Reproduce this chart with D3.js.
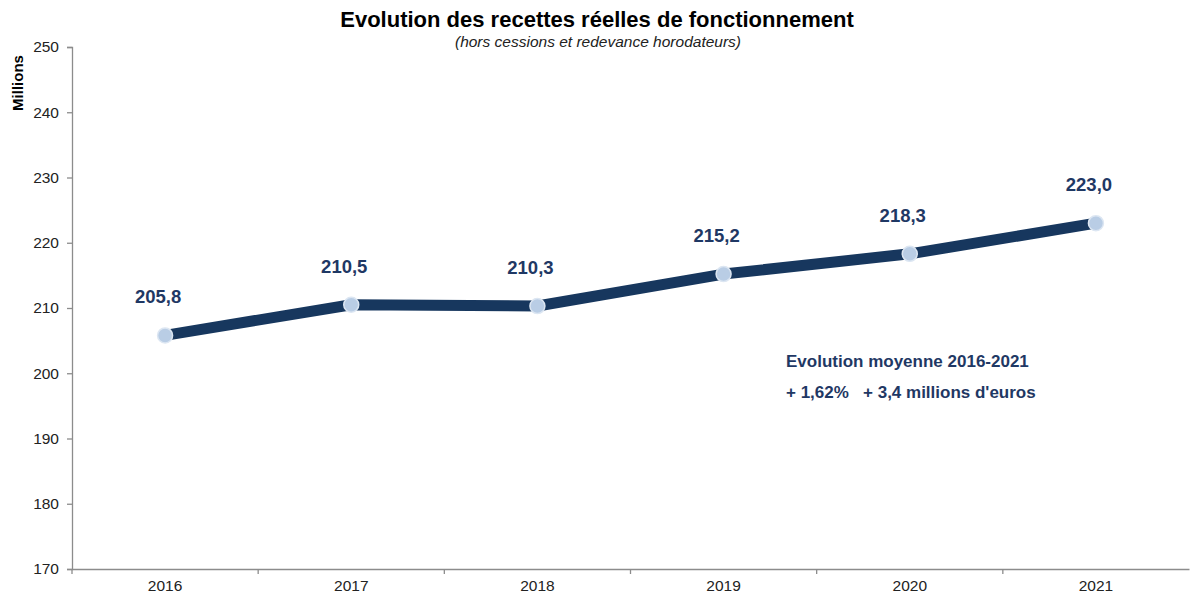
<!DOCTYPE html>
<html>
<head>
<meta charset="utf-8">
<script src="https://cdn.jsdelivr.net/npm/d3@7"></script>
<style>
    body { margin: 0; background: #fff; }
    svg { font-family: Arial, "Liberation Sans", sans-serif; }
</style>
</head>
<body>
<svg id="chart" width="1190" height="593"></svg>
<script>
    // data
    const years = ['2016', '2017', '2018', '2019', '2020', '2021'];
    const recettes = [205.8, 210.5, 210.3, 215.2, 218.3, 223.0];
    const yTicks = [170, 180, 190, 200, 210, 220, 230, 240, 250];

    const svg = d3.select('#chart');
    const navy = '#17375e';
    const x0 = 72, x1 = 1189, yTop = 47, yBottom = 569;

    const x = d3.scaleBand().domain(years).range([x0, x1]);
    const y = d3.scaleLinear().domain([170, 250]).range([yBottom, yTop]);

    // y axis
    const yAxis = svg.append('g')
        .attr('transform', 'translate(' + x0 + ',0)')
        .call(d3.axisLeft(y).tickValues(yTicks).tickSize(5).tickPadding(8));
    yAxis.select('.domain').attr('stroke', '#8c8c8c').attr('stroke-width', 1.3);
    yAxis.selectAll('.tick line').attr('stroke', '#8c8c8c').attr('stroke-width', 1.3);
    yAxis.selectAll('.tick text')
        .attr('font-size', 15.5).attr('fill', '#222')
        .attr('font-family', 'Arial, "Liberation Sans", sans-serif');

    // x axis, ticks sit between categories
    const xAxis = svg.append('g')
        .attr('transform', 'translate(0,' + yBottom + ')')
        .call(d3.axisBottom(x).tickSize(0).tickPadding(11));
    xAxis.select('.domain').attr('stroke', '#8c8c8c').attr('stroke-width', 1.3);
    xAxis.selectAll('.tick text')
        .attr('font-size', 15.5).attr('fill', '#222')
        .attr('font-family', 'Arial, "Liberation Sans", sans-serif');
    xAxis.selectAll('.sep')
        .data(years)
        .enter()
        .append('line')
        .attr('x1', d => x(d)).attr('x2', d => x(d))
        .attr('y1', 0).attr('y2', 5)
        .attr('stroke', '#8c8c8c').attr('stroke-width', 1.3);

    const cx = d => x(d) + x.bandwidth() / 2;

    // line
    const line = d3.line()
        .x((d, i) => cx(years[i]))
        .y(d => y(d));
    svg.append('path')
        .datum(recettes)
        .attr('d', line)
        .attr('fill', 'none')
        .attr('stroke', navy)
        .attr('stroke-width', 11)
        .attr('stroke-linejoin', 'round');

    // markers
    svg.selectAll('circle.pt')
        .data(recettes)
        .enter()
        .append('circle')
        .attr('class', 'pt')
        .attr('cx', (d, i) => cx(years[i]))
        .attr('cy', d => y(d))
        .attr('r', 7.5)
        .attr('fill', '#b9cde5')
        .attr('stroke', '#dce6f2')
        .attr('stroke-width', 1.5);

    // value labels
    svg.selectAll('text.val')
        .data(recettes)
        .enter()
        .append('text')
        .attr('class', 'val')
        .attr('x', (d, i) => cx(years[i]) - 7)
        .attr('y', d => y(d) - 32)
        .attr('text-anchor', 'middle')
        .attr('font-size', 18.5)
        .attr('font-weight', 'bold')
        .attr('fill', '#1f3864')
        .text(d => d.toFixed(1).replace('.', ','));

    // titles
    svg.append('text')
        .attr('x', 597).attr('y', 27)
        .attr('text-anchor', 'middle')
        .attr('font-size', 22).attr('font-weight', 'bold')
        .attr('fill', '#000')
        .text('Evolution des recettes réelles de fonctionnement');
    svg.append('text')
        .attr('x', 598).attr('y', 47)
        .attr('text-anchor', 'middle')
        .attr('font-size', 15.5).attr('font-style', 'italic')
        .attr('fill', '#222')
        .text('(hors cessions et redevance horodateurs)');

    svg.append('text')
        .attr('transform', 'translate(23,83) rotate(-90)')
        .attr('text-anchor', 'middle')
        .attr('font-size', 15).attr('font-weight', 'bold')
        .attr('fill', '#000')
        .text('Millions');

    // annotation
    svg.append('text')
        .attr('x', 786).attr('y', 367)
        .attr('font-size', 17).attr('font-weight', 'bold')
        .attr('fill', '#1f3864')
        .text('Evolution moyenne 2016-2021');
    svg.append('text')
        .attr('x', 786).attr('y', 398)
        .attr('font-size', 17).attr('font-weight', 'bold')
        .attr('fill', '#1f3864')
        .attr('xml:space', 'preserve')
        .style('white-space', 'pre')
        .text('+ 1,62%   + 3,4 millions d\'euros');
</script>
</body>
</html>
